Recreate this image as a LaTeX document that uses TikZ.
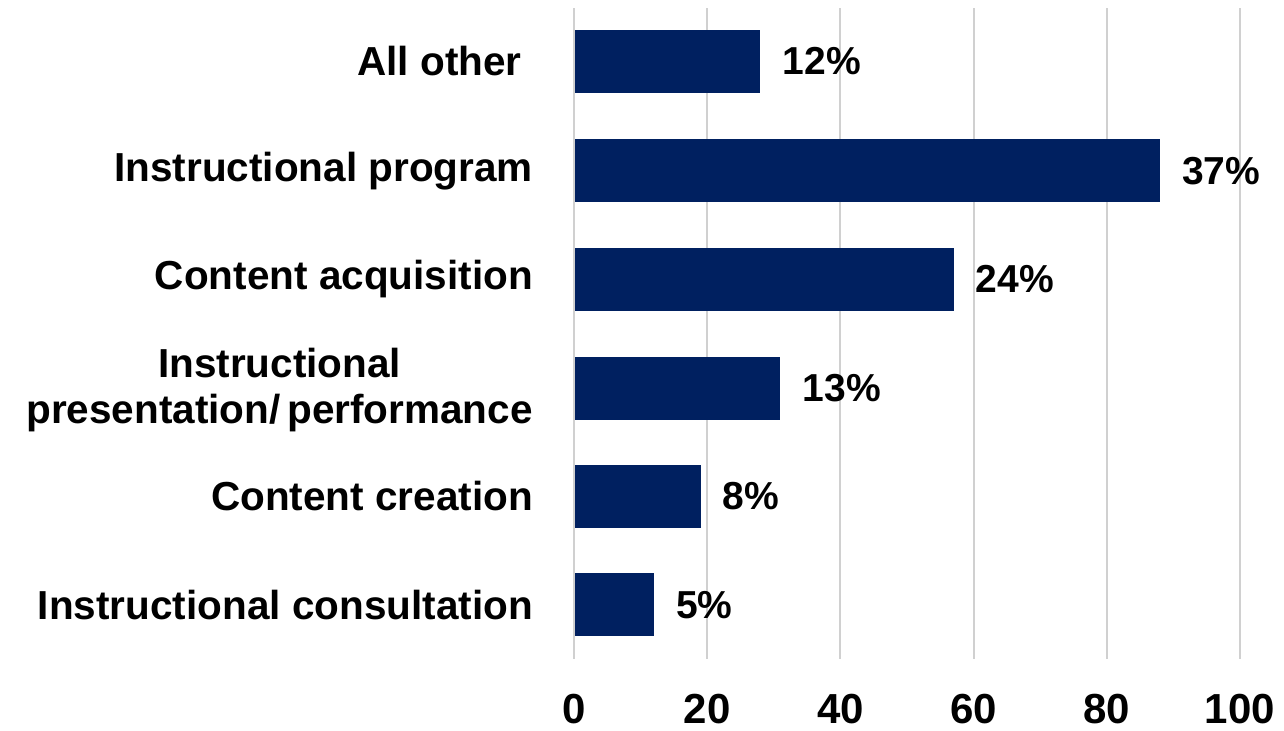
\documentclass[tikz,border=0pt]{standalone}
\usepackage{fontspec}
\setmainfont{Liberation Sans}
\definecolor{barblue}{HTML}{002060}
\definecolor{gridgray}{HTML}{D0D0D0}
\tikzset{
  catlabel/.style={anchor=east, align=center, inner sep=0pt, xshift=-41pt,
    font=\bfseries\fontsize{40.5}{46}\selectfont},
  pctlabel/.style={anchor=west, inner sep=0pt, xshift=22pt,
    font=\bfseries\fontsize{39}{39}\selectfont},
  ticklabel/.style={inner sep=0pt, font=\bfseries\fontsize{42}{42}\selectfont}
}
\begin{document}
\begin{tikzpicture}[x=6.66pt,y=-1pt]
	\useasboundingbox (-86.19,0) rectangle (106.61,731);
	%%%%%%%% grid and axis
	\foreach \x in {0,20,...,100}{
		\draw[gridgray,line width=2pt] (\x,8)--(\x,659);
		\node[ticklabel] (tick\x) at (\x,709) {\x};}
	%%%%%%%% bars
	\foreach \v/\y/\p/\n in {28/61.5/12/other, 88/171/37/program, 57/279.5/24/acquisition,
		31/388.5/13/presentation, 19/496.5/8/creation, 12/605/5/consultation}{
		\fill[barblue] (0.15,\y-31.5) rectangle (\v,\y+31.5);
		\node[pctlabel] (pct-\n) at (\v,\y) {\p\%};}
	%%%%%%%% categories
	\node[catlabel] (cat-other) at (0,61.5) {All other\ };
	\node[catlabel] (cat-program) at (0,171) {Instructional program};
	\node[catlabel] (cat-acquisition) at (0,279.5) {Content acquisition};
	\node[catlabel] (cat-presentation) at (0,390) {Instructional\\presentation/\,performance};
	\node[catlabel] (cat-creation) at (0,496.5) {Content creation};
	\node[catlabel] (cat-consultation) at (0,605) {Instructional consultation};
\end{tikzpicture}
\end{document}
